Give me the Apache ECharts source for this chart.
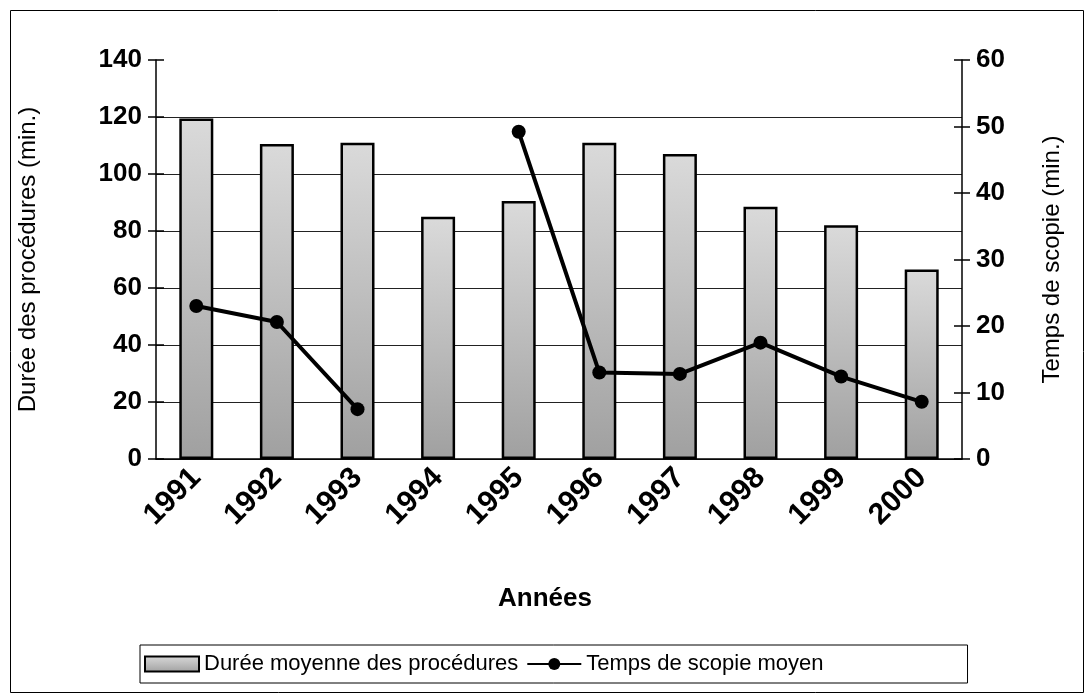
<!DOCTYPE html>
<html>
<head>
<meta charset="utf-8">
<script src="https://cdn.jsdelivr.net/npm/echarts@6/dist/echarts.min.js"></script>
<style>
  html, body { margin: 0; padding: 0; background: #fff; }
  #chart { width: 1090px; height: 700px; }
</style>
</head>
<body>
<div id="chart"></div>
<script>
// années
const years = ['1991', '1992', '1993', '1994', '1995', '1996', '1997', '1998', '1999', '2000'];
// durée moyenne des procédures (min.)
const dureeProc = [119.5, 110.5, 111, 85, 90.5, 111, 107, 88.5, 82, 66.5];
// temps de scopie moyen (min.), 1994 manquant
const tempsScopie = [23, 20.6, 7.5, null, 49.2, 13, 12.8, 17.5, 12.4, 8.6];
const leftTicks = [0, 20, 40, 60, 80, 100, 120, 140];

const FONT = '"Liberation Sans", Arial, sans-serif';
const chart = echarts.init(document.getElementById('chart'), null, { renderer: 'canvas' });

const tickLabel = { color: '#000', fontFamily: FONT, fontWeight: 'bold', fontSize: 26 };
// pas de ligne de grille en haut (140)
const gridColors = leftTicks.map((v, i) => (i === leftTicks.length - 1 ? 'rgba(0,0,0,0)' : '#222'));

const barFill = new echarts.graphic.LinearGradient(0, 0, 0, 1, [
  { offset: 0, color: '#dadada' },
  { offset: 1, color: '#a0a0a0' }
]);

chart.setOption({
  animation: false,
  backgroundColor: '#fff',
  grid: { left: 156, right: 128, top: 60, bottom: 241 },
  legend: {
    left: 140,
    top: 645,
    borderColor: '#000',
    borderWidth: 1,
    padding: [8, 144, 8, 4],
    itemWidth: 54,
    itemHeight: 15,
    itemGap: 8,
    textStyle: { color: '#000', fontFamily: FONT, fontSize: 22 },
    data: [
      { name: 'Durée moyenne des procédures', icon: 'rect' },
      { name: 'Temps de scopie moyen' }
    ]
  },
  xAxis: [
    {
      type: 'category',
      data: years,
      axisLine: { lineStyle: { color: '#000', width: 1.5 } },
      axisTick: { length: 10, lineStyle: { color: '#000', width: 1.5 } },
      axisLabel: Object.assign({}, tickLabel, { rotate: 45, margin: 14, fontSize: 30 })
    },
    {
      type: 'category',
      data: years,
      position: 'bottom',
      axisLine: { show: false },
      axisTick: { inside: true, length: 10, lineStyle: { color: '#000', width: 1.5 } },
      axisLabel: { show: false }
    }
  ],
  yAxis: [
    {
      type: 'value', min: 0, max: 140, interval: 20,
      name: 'Durée des procédures (min.)',
      nameLocation: 'middle', nameRotate: 90, nameGap: 116,
      nameTextStyle: { color: '#000', fontFamily: FONT, fontSize: 24 },
      axisLine: { show: true, lineStyle: { color: '#000', width: 1.5 } },
      axisTick: { show: true, length: 8, lineStyle: { color: '#000', width: 1.5 } },
      axisLabel: Object.assign({ margin: 14 }, tickLabel),
      splitLine: { show: true, lineStyle: { color: gridColors, width: 1.2 } }
    },
    {
      type: 'value', min: 0, max: 60, interval: 10, position: 'right',
      name: 'Temps de scopie (min.)',
      nameLocation: 'middle', nameRotate: 90, nameGap: 78,
      nameTextStyle: { color: '#000', fontFamily: FONT, fontSize: 24 },
      axisLine: { show: true, lineStyle: { color: '#000', width: 1.5 } },
      axisTick: { show: true, length: 8, lineStyle: { color: '#000', width: 1.5 } },
      axisLabel: Object.assign({ margin: 14 }, tickLabel),
      splitLine: { show: false }
    },
    {
      type: 'value', min: 0, max: 140, interval: 20, position: 'left',
      axisLine: { show: false },
      axisTick: { show: true, inside: true, length: 8, lineStyle: { color: '#000', width: 1.5 } },
      axisLabel: { show: false },
      splitLine: { show: false }
    },
    {
      type: 'value', min: 0, max: 60, interval: 10, position: 'right',
      axisLine: { show: false },
      axisTick: { show: true, inside: true, length: 8, lineStyle: { color: '#000', width: 1.5 } },
      axisLabel: { show: false },
      splitLine: { show: false }
    }
  ],
  series: [
    {
      name: 'Durée moyenne des procédures',
      type: 'bar',
      xAxisIndex: 0,
      yAxisIndex: 0,
      barWidth: 34,
      itemStyle: { color: barFill, borderColor: '#000', borderWidth: 2.5 },
      data: dureeProc
    },
    {
      name: 'Temps de scopie moyen',
      type: 'line',
      xAxisIndex: 0,
      yAxisIndex: 1,
      connectNulls: false,
      symbol: 'circle',
      symbolSize: 14,
      itemStyle: { color: '#000' },
      lineStyle: { color: '#000', width: 4 },
      data: tempsScopie
    }
  ],
  graphic: [
    // cadre extérieur
    {
      type: 'rect', left: 8, top: 8, silent: true,
      shape: { width: 1073, height: 682 },
      style: { fill: 'none', stroke: '#000', lineWidth: 1 }
    },
    {
      type: 'text', left: 498, top: 586,
      style: { text: 'Années', fill: '#000', font: 'bold 26px ' + FONT }
    }
  ]
});
</script>
</body>
</html>
